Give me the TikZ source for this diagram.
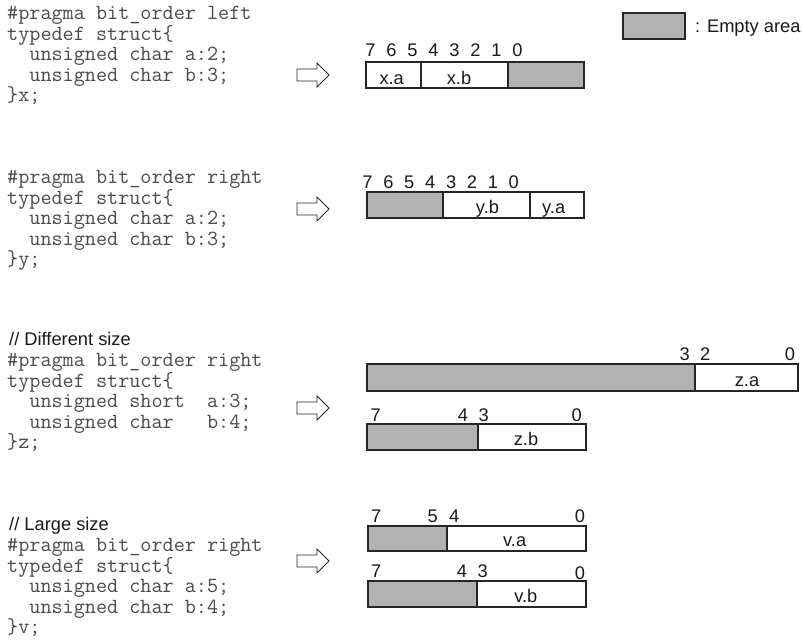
\documentclass[tikz,border=0pt]{standalone}
\usepackage{fontspec}
\setmainfont{Liberation Sans}
\usepackage{xcolor}
\definecolor{emptygray}{HTML}{B2B2B2}
\definecolor{codegray}{HTML}{4A4A4A}
\definecolor{linegray}{HTML}{262626}
\newcommand{\codefont}{\ttfamily\fontsize{18.4}{17.43}\selectfont}
\newcommand{\labelfont}{\fontsize{15.6}{18}\selectfont}
\newcommand{\ind}{\phantom{xx}}

\begin{document}
\begin{tikzpicture}[x=0.03cm, y=-0.03cm,
        cell/.style={draw=linegray, line width=1pt},
        emptyfill/.style={fill=emptygray},
        bit/.style={font=\labelfont, text=black!90, anchor=base, inner sep=0pt},
        note/.style={font=\labelfont, text=black!90, anchor=base west, inner sep=0pt},
        codetext/.style={font=\codefont, text=codegray, align=left, anchor=base west, inner sep=0pt},
        blockarrow/.style={draw=linegray, line width=0.8pt, fill=white, line join=miter}]
    \useasboundingbox (0,0) rectangle (803,644);

    % legend
    \draw[cell, emptyfill] (623,13) rectangle (685,39);
    \node[note] (emptylbl) at (695,32) {: Empty area};

    % source code (node placed at the baseline of its last line)
    \node[codetext] (codex) at (7,101.6) {\#pragma bit\_order left\\typedef struct\{\\\ind unsigned char a:2;\\\ind unsigned char b:3;\\\}x;};
    \node[codetext] (codey) at (7,265.5) {\#pragma bit\_order right\\typedef struct\{\\\ind unsigned char a:2;\\\ind unsigned char b:3;\\\}y;};
    \node[note] (cmtz) at (9,345) {// Different size};
    \node[codetext] (codez) at (7,448.5) {\#pragma bit\_order right\\typedef struct\{\\\ind unsigned short\ \ a:3;\\\ind unsigned char\ \ \ b:4;\\\}z;};
    \node[note] (cmtv) at (9,530) {// Large size};
    \node[codetext] (codev) at (7,633.5) {\#pragma bit\_order right\\typedef struct\{\\\ind unsigned char a:5;\\\ind unsigned char b:4;\\\}v;};

    % arrows
    \foreach \ay in {75,209,408,561}
        \draw[blockarrow] (297,\ay) ++(0,-6) -- ++(20,0) -- ++(0,-6) -- ++(12,12)
            -- ++(-12,12) -- ++(0,-6) -- ++(-20,0) -- cycle;

    % x: bit_order left
    \foreach \d in {0,...,7}
        \node[bit] (xbit\d) at ({370.5+21*(7-\d)},56) {\d};
    \draw[cell] (366,62) rectangle (421,88);
    \draw[cell] (421,62) rectangle (508,88);
    \draw[cell, emptyfill] (508,62) rectangle (584,88);
    \node[bit] (xa) at (391.7,84.5) {x.a};
    \node[bit] (xb) at (459,84.5) {x.b};

    % y: bit_order right
    \foreach \d in {0,...,7}
        \node[bit] (ybit\d) at ({367.5+20.9*(7-\d)},188) {\d};
    \draw[cell, emptyfill] (367,192) rectangle (443,218);
    \draw[cell] (443,192) rectangle (530,218);
    \draw[cell] (530,192) rectangle (584,218);
    \node[bit] (yb) at (487.5,213.5) {y.b};
    \node[bit] (ya) at (553.7,213.5) {y.a};

    % z: different size
    \foreach \d/\px in {3/684.7, 2/705.3, 0/790}
        \node[bit] (zabit\d) at (\px,360.5) {\d};
    \draw[cell, emptyfill] (367,364) rectangle (695,391);
    \draw[cell] (695,364) rectangle (798,391);
    \node[bit] (za) at (747,386.5) {z.a};
    \foreach \d/\px in {7/375.7, 4/463, 3/483.8, 0/576.7}
        \node[bit] (zbbit\d) at (\px,421) {\d};
    \draw[cell, emptyfill] (367,424) rectangle (478,450);
    \draw[cell] (478,424) rectangle (586,450);
    \node[bit] (zb) at (526,445.5) {z.b};

    % v: large size
    \foreach \d/\px in {7/376.3, 5/432.8, 4/454.2, 0/580}
        \node[bit] (vabit\d) at (\px,522.5) {\d};
    \draw[cell, emptyfill] (368,526) rectangle (447,551);
    \draw[cell] (447,526) rectangle (586,551);
    \node[bit] (va) at (514.7,546.5) {v.a};
    \foreach \d/\px/\py in {7/376.3/577.5, 4/462/577.5, 3/482.8/577.5, 0/580/579.5}
        \node[bit] (vbbit\d) at (\px,\py) {\d};
    \draw[cell, emptyfill] (368,581) rectangle (477,607);
    \draw[cell] (477,581) rectangle (586,607);
    \node[bit] (vb) at (525.8,602) {v.b};
\end{tikzpicture}
\end{document}
